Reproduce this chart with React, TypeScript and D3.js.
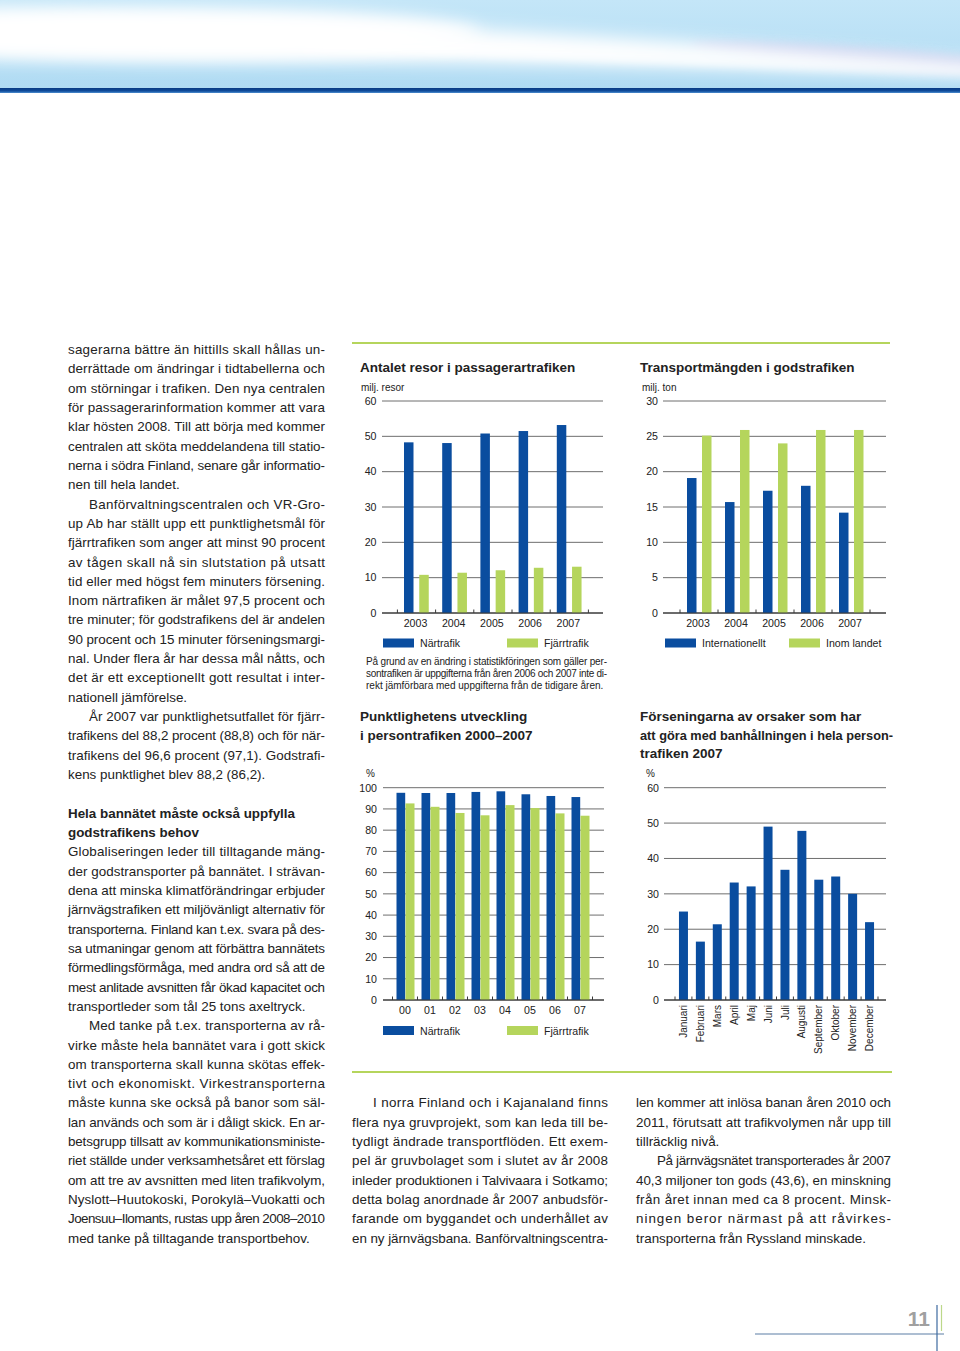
import React from "react";
import * as d3 from "d3";

// ---------- DATA ----------
const passYears = ["2003", "2004", "2005", "2006", "2007"];
const passNar = [48.3, 48.1, 50.8, 51.5, 53.2];
const passFjarr = [10.8, 11.4, 12.1, 12.8, 13.1];
const passTicks = [0, 10, 20, 30, 40, 50, 60];

const godsYears = ["2003", "2004", "2005", "2006", "2007"];
const godsIntl = [19.1, 15.7, 17.3, 18.0, 14.2];
const godsInom = [25.1, 25.9, 24.0, 25.9, 25.9];
const godsTicks = [0, 5, 10, 15, 20, 25, 30];

const punktYears = ["00", "01", "02", "03", "04", "05", "06", "07"];
const punktNar = [97.6, 97.5, 97.5, 98.0, 98.3, 96.9, 96.1, 95.6];
const punktFjarr = [92.6, 91.0, 88.1, 87.0, 91.8, 90.4, 87.9, 86.8];
const punktTicks = [0, 10, 20, 30, 40, 50, 60, 70, 80, 90, 100];

const months = ["Januari", "Februari", "Mars", "April", "Maj", "Juni", "Juli", "Augusti", "September", "Oktober", "November", "December"];
const delayValues = [25.0, 16.5, 21.4, 33.2, 32.1, 49.0, 36.8, 47.8, 34.0, 34.9, 30.0, 22.0];
const delayTicks = [0, 10, 20, 30, 40, 50, 60];

// [text, justified, indent, bold]
const leftLines: [string, number, number, number][] = [
  ["sagerarna bättre än hittills skall hållas un-", 1, 0, 0],
  ["derrättade om ändringar i tidtabellerna och", 1, 0, 0],
  ["om störningar i trafiken. Den nya centralen", 1, 0, 0],
  ["för passagerarinformation kommer att vara", 1, 0, 0],
  ["klar hösten 2008. Till att börja med kommer", 1, 0, 0],
  ["centralen att sköta meddelandena till statio-", 1, 0, 0],
  ["nerna i södra Finland, senare går informatio-", 1, 0, 0],
  ["nen till hela landet.", 0, 0, 0],
  ["Banförvaltningscentralen och VR-Gro-", 1, 1, 0],
  ["up Ab har ställt upp ett punktlighetsmål för", 1, 0, 0],
  ["fjärrtrafiken som anger att minst 90 procent", 1, 0, 0],
  ["av tågen skall nå sin slutstation på utsatt", 1, 0, 0],
  ["tid eller med högst fem minuters försening.", 1, 0, 0],
  ["Inom närtrafiken är målet 97,5 procent och", 1, 0, 0],
  ["tre minuter; för godstrafikens del är andelen", 1, 0, 0],
  ["90 procent och 15 minuter förseningsmargi-", 1, 0, 0],
  ["nal. Under flera år har dessa mål nåtts, och", 1, 0, 0],
  ["det är ett exceptionellt gott resultat i inter-", 1, 0, 0],
  ["nationell jämförelse.", 0, 0, 0],
  ["År 2007 var punktlighetsutfallet för fjärr-", 1, 1, 0],
  ["trafikens del 88,2 procent (88,8) och för när-", 1, 0, 0],
  ["trafikens del 96,6 procent (97,1). Godstrafi-", 1, 0, 0],
  ["kens punktlighet blev 88,2 (86,2).", 0, 0, 0],
  ["", 0, 0, 0],
  ["Hela bannätet måste också uppfylla", 0, 0, 1],
  ["godstrafikens behov", 0, 0, 1],
  ["Globaliseringen leder till tilltagande mäng-", 1, 0, 0],
  ["der godstransporter på bannätet. I strävan-", 1, 0, 0],
  ["dena att minska klimatförändringar erbjuder", 1, 0, 0],
  ["järnvägstrafiken ett miljövänligt alternativ för", 1, 0, 0],
  ["transporterna. Finland kan t.ex. svara på des-", 1, 0, 0],
  ["sa utmaningar genom att förbättra bannätets", 1, 0, 0],
  ["förmedlingsförmåga, med andra ord så att de", 1, 0, 0],
  ["mest anlitade avsnitten får ökad kapacitet och", 1, 0, 0],
  ["transportleder som tål 25 tons axeltryck.", 0, 0, 0],
  ["Med tanke på t.ex. transporterna av rå-", 1, 1, 0],
  ["virke måste hela bannätet vara i gott skick", 1, 0, 0],
  ["om transporterna skall kunna skötas effek-", 1, 0, 0],
  ["tivt och ekonomiskt. Virkestransporterna", 1, 0, 0],
  ["måste kunna ske också på banor som säl-", 1, 0, 0],
  ["lan används och som är i dåligt skick. En ar-", 1, 0, 0],
  ["betsgrupp tillsatt av kommunikationsministe-", 1, 0, 0],
  ["riet ställde under verksamhetsåret ett förslag", 1, 0, 0],
  ["om att tre av avsnitten med liten trafikvolym,", 1, 0, 0],
  ["Nyslott–Huutokoski, Porokylä–Vuokatti och", 1, 0, 0],
  ["Joensuu–Ilomants, rustas upp åren 2008–2010", 1, 0, 0],
  ["med tanke på tilltagande transportbehov.", 0, 0, 0],
];

const midLines: [string, number, number, number][] = [
  ["I norra Finland och i Kajanaland finns", 1, 1, 0],
  ["flera nya gruvprojekt, som kan leda till be-", 1, 0, 0],
  ["tydligt ändrade transportflöden. Ett exem-", 1, 0, 0],
  ["pel är gruvbolaget som i slutet av år 2008", 1, 0, 0],
  ["inleder produktionen i Talvivaara i Sotkamo;", 1, 0, 0],
  ["detta bolag anordnade år 2007 anbudsför-", 1, 0, 0],
  ["farande om byggandet och underhållet av", 1, 0, 0],
  ["en ny järnvägsbana. Banförvaltningscentra-", 1, 0, 0],
];

const rightLines: [string, number, number, number][] = [
  ["len kommer att inlösa banan åren 2010 och", 1, 0, 0],
  ["2011, förutsatt att trafikvolymen når upp till", 1, 0, 0],
  ["tillräcklig nivå.", 0, 0, 0],
  ["På järnvägsnätet transporterades år 2007", 1, 1, 0],
  ["40,3 miljoner ton gods (43,6), en minskning", 1, 0, 0],
  ["från året innan med ca 8 procent. Minsk-", 1, 0, 0],
  ["ningen beror närmast på att råvirkes-", 1, 0, 0],
  ["transporterna från Ryssland minskade.", 0, 0, 0],
];

const noteLines: [string, number][] = [
  ["På grund av en ändring i statistikföringen som gäller per-", 1],
  ["sontrafiken är uppgifterna från åren 2006 och 2007 inte di-", 1],
  ["rekt jämförbara med uppgifterna från de tidigare åren.", 0],
];

// ---------- STYLE ----------
const BLUE = "#0a4d9f";
const GREEN = "#b5d55c";
const FONT = "'Liberation Sans', Arial, Helvetica, sans-serif";
const TEXT = "#222";
const LINE_H = 19.32;
const FIRST_BASE = 354;

function Column({ lines, x0, x1, startK }: { lines: [string, number, number, number][]; x0: number; x1: number; startK: number }) {
  const indent = 21;
  return (
    <g fontSize={13.4} fill={TEXT}>
      {lines.map(([t, j, ind, b], i) => {
        if (!t) return null;
        const x = x0 + (ind ? indent : 0);
        const y = FIRST_BASE + (startK + i) * LINE_H;
        const props: any = {};
        if (j) {
          props.textLength = x1 - x;
          props.lengthAdjust = "spacing";
        }
        return (
          <text key={i} x={x} y={y} fontWeight={b ? "bold" : "normal"} {...props}>
            {t}
          </text>
        );
      })}
    </g>
  );
}

function YGrid({ y, ticks, gx1, gx2, labelX }: { y: d3.ScaleLinear<number, number>; ticks: number[]; gx1: number; gx2: number; labelX: number }) {
  return (
    <g>
      {ticks.map((t) => (
        <g key={t}>
          <line x1={gx1} x2={gx2} y1={y(t)} y2={y(t)} stroke={t === 0 ? "#3a3a3a" : "#6e6e6e"} strokeWidth={1} />
          <text x={labelX} y={y(t)} dy="0.36em" textAnchor="end" fontSize={10.6} fill={TEXT}>
            {t}
          </text>
        </g>
      ))}
    </g>
  );
}

function XTicks({ x, y0 }: { x: d3.ScaleBand<string>; y0: number }) {
  const dom = x.domain();
  const pos = dom.map((d) => x(d) as number).concat([(x(dom[dom.length - 1]) as number) + x.bandwidth()]);
  return (
    <g>
      {pos.map((p, i) => (
        <line key={i} x1={p} x2={p} y1={y0 - 3.5} y2={y0} stroke="#3a3a3a" strokeWidth={1} />
      ))}
    </g>
  );
}

function Legend({ y, items }: { y: number; items: { x: number; label: string; color: string }[] }) {
  return (
    <g>
      {items.map((it) => (
        <g key={it.label}>
          <rect x={it.x} y={y - 8.5} width={31} height={9} fill={it.color} />
          <text x={it.x + 37} y={y} fontSize={10.6} fill={TEXT}>
            {it.label}
          </text>
        </g>
      ))}
    </g>
  );
}

export default function App() {
  // Chart 1
  const x1 = d3.scaleBand<string>().domain(passYears).range([397.4, 588.4]);
  const y1 = d3.scaleLinear().domain([0, 60]).range([613, 401]);
  // Chart 2
  const x2 = d3.scaleBand<string>().domain(godsYears).range([680, 870]);
  const y2 = d3.scaleLinear().domain([0, 30]).range([613, 401]);
  // Chart 3
  const x3 = d3.scaleBand<string>().domain(punktYears).range([392.5, 592.5]);
  const y3 = d3.scaleLinear().domain([0, 100]).range([1000, 787.7]);
  // Chart 4
  const x4 = d3.scaleBand<string>().domain(months).range([675, 878]);
  const y4 = d3.scaleLinear().domain([0, 60]).range([1000, 787.7]);

  const c = (s: d3.ScaleBand<string>, d: string) => (s(d) as number) + s.bandwidth() / 2;

  return (
    <div style={{ position: "absolute", left: 0, top: 0 }}>
      <svg width={960} height={1351} style={{ display: "block", fontFamily: FONT }}>
        <defs>
          <linearGradient id="sky" x1="0" y1="0" x2="0" y2="1">
            <stop offset="0" stopColor="#c4e6f8" />
            <stop offset="1" stopColor="#b0dbf3" />
          </linearGradient>
          <linearGradient id="band" x1="0" y1="0" x2="0" y2="1">
            <stop offset="0" stopColor="#0a3a82" />
            <stop offset="0.6" stopColor="#0e4c9c" />
            <stop offset="1" stopColor="#4f8fd0" />
          </linearGradient>
          <filter id="blur" x="-20%" y="-100%" width="140%" height="300%">
            <feGaussianBlur stdDeviation="9" />
          </filter>
          <filter id="blur2" x="-20%" y="-100%" width="140%" height="300%">
            <feGaussianBlur stdDeviation="4" />
          </filter>
          <clipPath id="hdr">
            <rect x={0} y={0} width={960} height={88} />
          </clipPath>
        </defs>

        {/* Header */}
        <g clipPath="url(#hdr)">
          <rect x={0} y={0} width={960} height={88} fill="url(#sky)" />
          <ellipse cx={870} cy={58} rx={180} ry={10} fill="#c6c4ea" opacity={0.7} filter="url(#blur2)" transform="rotate(4 870 58)" />
          <path d="M-20,8 C200,12 500,28 980,62 L980,76 C600,62 300,60 -20,58 Z" fill="#ffffff" filter="url(#blur)" />
          <ellipse cx={200} cy={34} rx={280} ry={24} fill="#ffffff" filter="url(#blur)" />
          <path d="M300,40 C500,48 700,58 980,70 L980,74 C700,64 500,56 300,48 Z" fill="#ffffff" filter="url(#blur2)" />
        </g>
        <rect x={0} y={88} width={960} height={5} fill="url(#band)" />

        {/* Green separators */}
        <line x1={352} x2={890} y1={343} y2={343} stroke={GREEN} strokeWidth={2} />
        <line x1={352} x2={892} y1={1072} y2={1072} stroke={GREEN} strokeWidth={2} />

        {/* Body text */}
        <Column lines={leftLines} x0={68} x1={325} startK={0} />
        <Column lines={midLines} x0={352} x1={608} startK={39} />
        <Column lines={rightLines} x0={636} x1={891} startK={39} />

        {/* Chart 1 */}
        <g>
          <text x={360} y={372} fontSize={13.5} fontWeight="bold" fill={TEXT}>Antalet resor i passagerartrafiken</text>
          <text x={361} y={390.5} fontSize={10} fill={TEXT}>milj. resor</text>
          <YGrid y={y1} ticks={passTicks} gx1={382} gx2={603} labelX={376.5} />
          {passYears.map((d, i) => (
            <g key={d}>
              <rect x={c(x1, d) - 12.5} y={y1(passNar[i])} width={9.5} height={y1(0) - y1(passNar[i])} fill={BLUE} />
              <rect x={c(x1, d) + 2.75} y={y1(passFjarr[i])} width={9.5} height={y1(0) - y1(passFjarr[i])} fill={GREEN} />
              <text x={c(x1, d) - 1} y={626.7} textAnchor="middle" fontSize={10.6} fill={TEXT}>{d}</text>
            </g>
          ))}
          <XTicks x={x1} y0={613} />
          <line x1={382} x2={603} y1={613} y2={613} stroke="#3a3a3a" strokeWidth={1} />
          <Legend y={647} items={[{ x: 383, label: "Närtrafik", color: BLUE }, { x: 507, label: "Fjärrtrafik", color: GREEN }]} />
          <g fontSize={10} fill={TEXT}>
            {noteLines.map(([t, j], i) => (
              <text key={i} x={366} y={665 + i * 12.2} {...(j ? { textLength: 241, lengthAdjust: "spacing" } : {})}>{t}</text>
            ))}
          </g>
        </g>

        {/* Chart 2 */}
        <g>
          <text x={640} y={372} fontSize={13.5} fontWeight="bold" fill={TEXT}>Transportmängden i godstrafiken</text>
          <text x={642} y={390.5} fontSize={10} fill={TEXT}>milj. ton</text>
          <YGrid y={y2} ticks={godsTicks} gx1={663} gx2={886} labelX={658} />
          {godsYears.map((d, i) => (
            <g key={d}>
              <rect x={c(x2, d) - 12} y={y2(godsIntl[i])} width={9.5} height={y2(0) - y2(godsIntl[i])} fill={BLUE} />
              <rect x={c(x2, d) + 3} y={y2(godsInom[i])} width={9.5} height={y2(0) - y2(godsInom[i])} fill={GREEN} />
              <text x={c(x2, d) - 1} y={626.7} textAnchor="middle" fontSize={10.6} fill={TEXT}>{d}</text>
            </g>
          ))}
          <XTicks x={x2} y0={613} />
          <line x1={663} x2={886} y1={613} y2={613} stroke="#3a3a3a" strokeWidth={1} />
          <Legend y={647} items={[{ x: 665, label: "Internationellt", color: BLUE }, { x: 789, label: "Inom landet", color: GREEN }]} />
        </g>

        {/* Chart 3 */}
        <g>
          <text x={360} y={720.5} fontSize={13.5} fontWeight="bold" fill={TEXT}>Punktlighetens utveckling</text>
          <text x={360} y={739.5} fontSize={13.5} fontWeight="bold" fill={TEXT}>i persontrafiken 2000–2007</text>
          <text x={366} y={777} fontSize={10} fill={TEXT}>%</text>
          <YGrid y={y3} ticks={punktTicks} gx1={383} gx2={604} labelX={377} />
          {punktYears.map((d, i) => (
            <g key={d}>
              <rect x={c(x3, d) - 8.5} y={y3(punktNar[i])} width={8.7} height={y3(0) - y3(punktNar[i])} fill={BLUE} />
              <rect x={c(x3, d) + 0.5} y={y3(punktFjarr[i])} width={9} height={y3(0) - y3(punktFjarr[i])} fill={GREEN} />
              <text x={c(x3, d)} y={1014} textAnchor="middle" fontSize={10.6} fill={TEXT}>{d}</text>
            </g>
          ))}
          <XTicks x={x3} y0={1000} />
          <line x1={383} x2={604} y1={1000} y2={1000} stroke="#3a3a3a" strokeWidth={1} />
          <Legend y={1034.5} items={[{ x: 383, label: "Närtrafik", color: BLUE }, { x: 507, label: "Fjärrtrafik", color: GREEN }]} />
        </g>

        {/* Chart 4 */}
        <g>
          <text x={640} y={720.5} fontSize={13.5} fontWeight="bold" fill={TEXT}>Förseningarna av orsaker som har</text>
          <text x={640} y={739.5} fontSize={13.5} fontWeight="bold" fill={TEXT} textLength={253} lengthAdjust="spacingAndGlyphs">att göra med banhållningen i hela person-</text>
          <text x={640} y={758} fontSize={13.5} fontWeight="bold" fill={TEXT}>trafiken 2007</text>
          <text x={646} y={777} fontSize={10} fill={TEXT}>%</text>
          <YGrid y={y4} ticks={delayTicks} gx1={664} gx2={886} labelX={659} />
          {months.map((d, i) => (
            <g key={d}>
              <rect x={c(x4, d) - 4.5} y={y4(delayValues[i])} width={9} height={y4(0) - y4(delayValues[i])} fill={BLUE} />
              <text transform={`translate(${c(x4, d)},1005) rotate(-90)`} dy="0.36em" textAnchor="end" fontSize={10} fill={TEXT}>{d}</text>
            </g>
          ))}
          <XTicks x={x4} y0={1000} />
          <line x1={664} x2={886} y1={1000} y2={1000} stroke="#3a3a3a" strokeWidth={1} />
        </g>

        {/* Page number */}
        <text x={930} y={1325.5} textAnchor="end" fontSize={21} fontWeight="bold" fill="#a0a0a0">11</text>
        <line x1={755} x2={944} y1={1334} y2={1334} stroke="#5d7fa6" strokeWidth={1.2} />
        <line x1={937} x2={937} y1={1305} y2={1351} stroke="#3d6aa0" strokeWidth={1.2} />
        <line x1={941.5} x2={941.5} y1={1305} y2={1331} stroke="#bcd88a" strokeWidth={1.2} />
      </svg>
    </div>
  );
}
